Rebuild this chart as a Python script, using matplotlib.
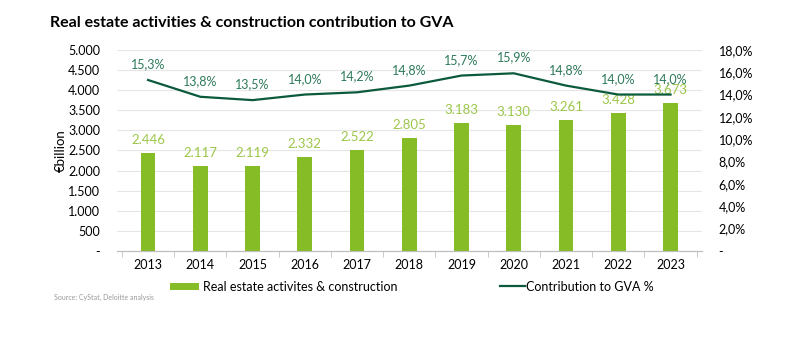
import matplotlib
matplotlib.use("Agg")
import matplotlib.pyplot as plt
from matplotlib.ticker import FuncFormatter, MultipleLocator

years = ["2013", "2014", "2015", "2016", "2017", "2018", "2019", "2020", "2021", "2022", "2023"]
gva_value = [2446, 2117, 2119, 2332, 2522, 2805, 3183, 3130, 3261, 3428, 3673]
gva_share = [15.3, 13.8, 13.5, 14.0, 14.2, 14.8, 15.7, 15.9, 14.8, 14.0, 14.0]

bar_col = "#86bc25"
line_col = "#0b5a3c"
lbl_bar = "#9cc64a"
lbl_line = "#2e7a5a"

plt.rcParams['font.family'] = ['Lato', 'DejaVu Sans']

fig = plt.figure(figsize=(7.94, 3.51), dpi=100)
ax = fig.add_axes([0.147, 0.285, 0.737, 0.573])
ax2 = ax.twinx()

x = list(range(len(years)))
ax.bar(x, gva_value, width=0.28, color=bar_col, zorder=3,
       label="Real estate activites & construction")
ax2.plot(x, gva_share, color=line_col, linewidth=1.6, zorder=4,
         label="Contribution to GVA %")

for i in x:
    ax.annotate(f"{gva_value[i]:,}".replace(",", "."), (i, gva_value[i]),
                xytext=(0, 5), textcoords="offset points", ha="center", va="bottom",
                color=lbl_bar, fontsize=9.5)
    ax2.annotate(f"{gva_share[i]:.1f}%".replace(".", ","), (i, gva_share[i]),
                 xytext=(0, 7), textcoords="offset points", ha="center", va="bottom",
                 color=lbl_line, fontsize=9)

ax.set_xlim(-0.6, len(years) - 0.4)
ax.set_ylim(0, 5000)
ax2.set_ylim(0, 18)
ax.yaxis.set_major_locator(MultipleLocator(500))
ax2.yaxis.set_major_locator(MultipleLocator(2))
ax.yaxis.set_major_formatter(FuncFormatter(
    lambda v, p: "-" if v == 0 else f"{int(v):,}".replace(",", ".")))
ax2.yaxis.set_major_formatter(FuncFormatter(
    lambda v, p: "-" if v == 0 else f"{v:.1f}%".replace(".", ",")))

ax.set_xticks(x)
ax.set_xticklabels(years)
ax.set_xticks([i - 0.5 for i in range(len(years) + 1)], minor=True)
ax.tick_params(axis="x", which="major", length=0, labelsize=9, pad=6)
ax.tick_params(axis="x", which="minor", length=4, color="#bfbfbf")
ax.tick_params(axis="y", length=0, labelsize=9, pad=12)
ax2.tick_params(axis="y", length=0, labelsize=9, pad=12)

ax.grid(axis="y", color="#e6e6e6", linewidth=0.8, zorder=0)
for a in (ax, ax2):
    for s in ("top", "right", "left"):
        a.spines[s].set_visible(False)
    a.spines["bottom"].set_color("#bfbfbf")
ax.set_ylabel("€billion", fontsize=9.5, labelpad=1)

fig.text(0.063, 0.935, "Real estate activities & construction contribution to GVA",
         fontsize=11.5, fontweight="bold", ha="left", va="center")
fig.text(0.068, 0.152, "Source: CyStat, Deloitte analysis", fontsize=5,
         color="#999999", ha="left", va="center")

h1, l1 = ax.get_legend_handles_labels()
h2, l2 = ax2.get_legend_handles_labels()
fig.legend([h1[0]], [l1[0]], loc="center left", bbox_to_anchor=(0.2, 0.183),
           frameon=False, fontsize=9, handlelength=2.3, handleheight=0.5,
           handletextpad=0.3)
fig.legend([h2[0]], [l2[0]], loc="center left", bbox_to_anchor=(0.615, 0.183),
           frameon=False, fontsize=9, handlelength=2.0, handletextpad=0.1)

fig.savefig("out.png", dpi=100)
